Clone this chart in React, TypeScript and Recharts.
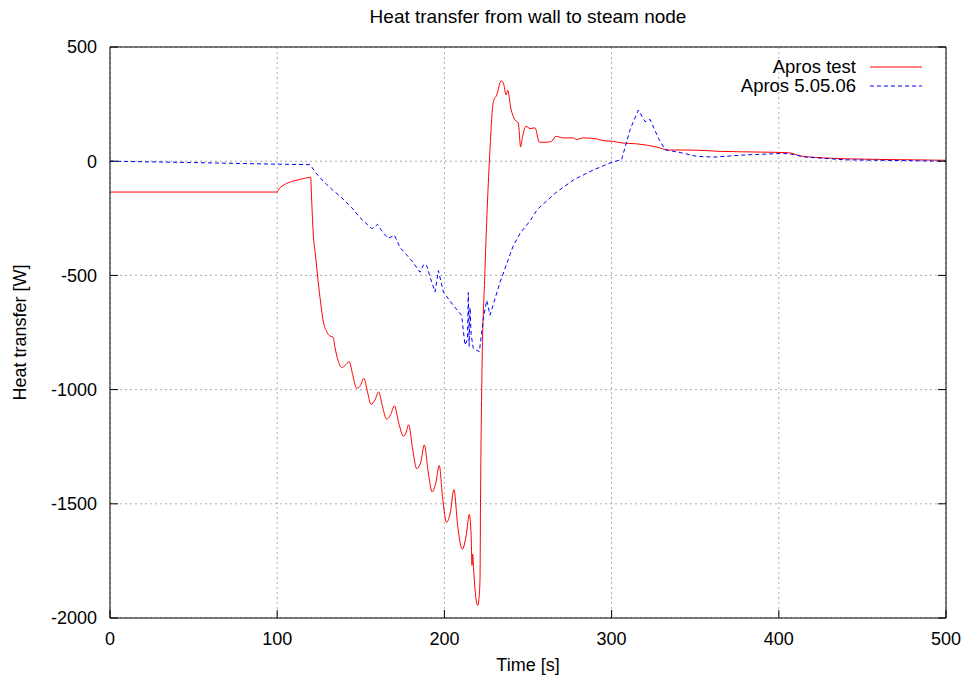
import React from 'react';
import {
  CartesianGrid,
  Legend,
  Line,
  LineChart,
  XAxis,
  YAxis,
} from 'recharts';

// Apros test (red, solid)
const testTime = [
  0, 100, 101, 102, 104, 107, 110, 114, 117, 120, 120.5, 121.5, 123, 124.5, 126, 127.5, 129.5,
  131.5, 133.4, 134.6, 136.5, 138.6, 140.5, 143.1, 145, 147.5, 149.5, 151.9, 154, 156.1, 158.5,
  160.7, 163, 165.4, 167.8, 170.1, 172.8, 175.5, 177, 178.6, 181, 183.4, 185.8, 188, 190.3, 192.7,
  194.8, 196.9, 199, 201.3, 203.5, 205.7, 208, 210.7, 213, 214.9, 216, 216.5, 216.9, 217.5, 218.8,
  219.9, 220.6, 221.3, 221.6, 222.3, 224.3, 226.9, 229.3, 231.3, 233.9, 235.3, 236.9, 237.9, 239.7,
  242.2, 244.2, 245.6, 246.8, 248.8, 251.2, 254.2, 256.8, 261.2, 264.1, 266.7, 271.1, 277, 279.1,
  283, 291, 295, 301, 306, 315, 327, 334, 347, 365, 389, 406, 413, 431, 451, 480, 500,
];
const testHeat = [
  -135, -135, -122, -114, -104, -93, -86, -79, -74, -70, -150, -310, -420, -526, -620, -700, -745,
  -765, -770, -817, -875, -904, -895, -878, -930, -994, -985, -951, -1010, -1064, -1045,
  -1010, -1075, -1129, -1110, -1071, -1150, -1204, -1190, -1154, -1260, -1346, -1320, -1242, -1360, -1448,
  -1410, -1332, -1480, -1581, -1540, -1438, -1600, -1699, -1640, -1546, -1640, -1770, -1720, -1790, -1910,
  -1945, -1920, -1830, -1500, -1000, -470, 0, 261, 290, 352, 342, 290, 310, 233,
  181, 167, 63, 109, 153, 143, 146, 83, 83, 87, 109, 102, 102, 95,
  102, 98, 90, 87, 80, 76, 62, 49, 49, 43, 40, 37, 23, 13, 9, 6, 4,
];

// Apros 5.05.06 (blue, dashed)
const refTime = [
  0, 50, 100, 119.6, 123, 127.6, 133, 138.6, 144.5, 149.5, 156.5, 158, 160, 162.5, 166.4, 170.1,
  173.4, 180.4, 185.4, 187.8, 189.4, 192, 194.4, 196.4, 199.4, 205.3, 210.3, 212.3, 213.8, 214.3,
  214.8, 215.3, 216, 217.3, 220.9, 223.3, 225.3, 227.3, 233.3, 241.2, 245.6, 251.2, 255.6, 266.6,
  277.6, 289.5, 300, 306, 311, 316, 320, 323, 328, 332, 341, 351, 361, 381, 399, 406, 416, 440,
  480, 500,
];
const refHeat = [
  0, -6, -13, -15, -50, -88, -125, -160, -203, -247, -295, -290, -276, -305, -338, -324,
  -377, -435, -486, -450, -457, -520, -573, -479, -573, -631, -675, -805, -780, -575,
  -810, -640, -760, -820, -834, -689, -609, -674, -529, -370, -312, -262, -211, -138,
  -80, -37, -5, 7, 137, 224, 173, 183, 101, 50, 38, 21, 18, 28, 33, 33, 18, 6,
  2, 0,
];

const timeTicks = [0, 100, 200, 300, 400, 500];
const heatTicks = [-2000, -1500, -1000, -500, 0, 500];

const testData = testTime.map((t, i) => ({ t, v: testHeat[i] }));
const refData = refTime.map((t, i) => ({ t, v: refHeat[i] }));

const FONT = '"Liberation Sans", Arial, sans-serif';
const tickStyle = { fontSize: 18, fill: '#000', fontFamily: FONT };
const blank = () => '';

const legendItems = [
  { name: 'Apros test', color: '#ff0000', dash: undefined },
  { name: 'Apros 5.05.06', color: '#0000ff', dash: '4 3' },
];

function renderLegend() {
  return (
    <div style={{ fontFamily: FONT, fontSize: 18.5, color: '#000' }}>
      {legendItems.map((item) => (
        <div key={item.name} style={{ display: 'flex', alignItems: 'center', height: 19 }}>
          <span style={{ width: 256, textAlign: 'right', whiteSpace: 'nowrap' }}>{item.name}</span>
          <svg width={66} height={19}>
            <line x1={14} x2={66} y1={10} y2={10} stroke={item.color} strokeDasharray={item.dash} />
          </svg>
        </div>
      ))}
    </div>
  );
}

export default function App() {
  return (
    <div style={{ position: 'absolute', left: 0, top: 0, width: 972, height: 682, background: '#fff' }}>
      <div
        style={{
          position: 'absolute',
          left: 110,
          width: 836,
          top: 6,
          textAlign: 'center',
          fontFamily: FONT,
          fontSize: 19,
          color: '#000',
        }}
      >
        Heat transfer from wall to steam node
      </div>
      <LineChart width={972} height={682} margin={{ top: 46, right: 25, bottom: 0, left: 0 }}>
        <CartesianGrid stroke="#aaa" strokeDasharray="2 3" />
        <XAxis
          type="number"
          dataKey="t"
          domain={[0, 500]}
          ticks={timeTicks}
          allowDataOverflow
          height={64}
          tickSize={-8}
          tickMargin={22}
          tick={tickStyle}
          stroke="#000"
          label={{ value: 'Time [s]', position: 'center', dy: 15, style: tickStyle }}
        />
        <XAxis
          xAxisId="top"
          orientation="top"
          type="number"
          domain={[0, 500]}
          ticks={timeTicks}
          allowDataOverflow
          height={1}
          tickSize={-8}
          tickFormatter={blank}
          stroke="#000"
        />
        <YAxis
          type="number"
          domain={[-2000, 500]}
          ticks={heatTicks}
          allowDataOverflow
          width={110}
          tickSize={-8}
          tickMargin={21}
          tick={tickStyle}
          stroke="#000"
          label={{ value: 'Heat transfer [W]', angle: -90, position: 'center', dx: -35, style: tickStyle }}
        />
        <YAxis
          yAxisId="right"
          orientation="right"
          type="number"
          domain={[-2000, 500]}
          ticks={heatTicks}
          allowDataOverflow
          width={1}
          tickSize={-8}
          tickFormatter={blank}
          stroke="#000"
        />
        <Legend
          layout="vertical"
          verticalAlign="middle"
          align="center"
          content={renderLegend}
          wrapperStyle={{ left: 600, top: 57, width: 340 }}
        />
        <Line
          data={testData}
          dataKey="v"
          name="Apros test"
          type="monotone"
          stroke="#ff0000"
          strokeWidth={1}
          dot={false}
          isAnimationActive={false}
        />
        <Line
          data={refData}
          dataKey="v"
          name="Apros 5.05.06"
          type="linear"
          stroke="#0000ff"
          strokeWidth={1}
          strokeDasharray="4 3"
          dot={false}
          isAnimationActive={false}
        />
      </LineChart>
    </div>
  );
}
